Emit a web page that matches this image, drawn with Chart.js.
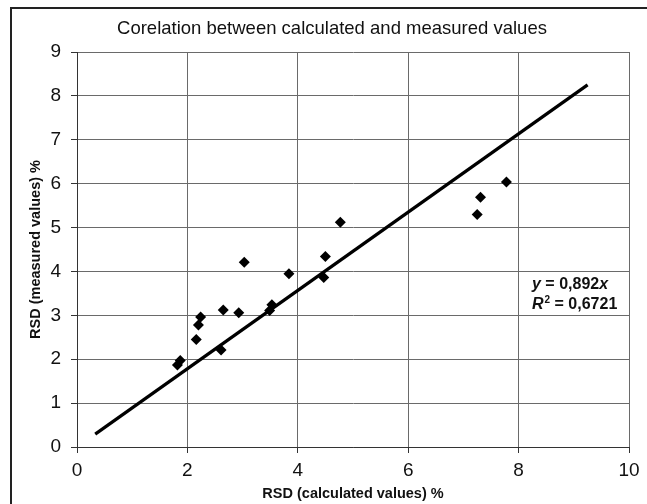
<!DOCTYPE html>
<html>
<head>
<meta charset="utf-8">
<script src="https://cdn.jsdelivr.net/npm/chart.js@4.4.1/dist/chart.umd.min.js"></script>
<style>
  html, body { margin: 0; padding: 0; background: #fff; }
  #wrap { width: 647px; height: 504px; }
</style>
</head>
<body>
<div id="wrap"><canvas id="myChart" width="647" height="504"></canvas></div>
<script>
// RSD values
const calcX = [1.82, 1.87, 2.16, 2.2, 2.24, 2.61, 2.65, 2.93, 3.03, 3.49, 3.53, 3.84, 4.47, 4.5, 4.77, 7.25, 7.31, 7.78];
const measY = [1.87, 1.97, 2.45, 2.78, 2.96, 2.21, 3.12, 3.06, 4.21, 3.11, 3.24, 3.95, 3.86, 4.34, 5.12, 5.3, 5.69, 6.04];

// trend line y = 0,892x
const slope = 0.892;
const trendX = [0.33, 9.25];
const rSquared = '0,6721';

const titleText = 'Corelation between calculated and measured values';
const xTitle = 'RSD (calculated values) %';
const yTitle = 'RSD (measured values) %';

const points = calcX.map((x, i) => ({ x: x, y: measY[i] }));
const trend = trendX.map(x => ({ x: x, y: slope * x }));

const font = 'Liberation Sans, Arial, sans-serif';
const gridColor = '#6a6a6a';

// frame, title and equation label
const extras = {
    id: 'extras',
    afterDraw(chart) {
        const c = chart.ctx;
        const a = chart.chartArea;
        c.save();
        c.strokeStyle = '#222';
        c.lineWidth = 2;
        c.beginPath();
        c.moveTo(11, 504);
        c.lineTo(11, 8);
        c.lineTo(647, 8);
        c.stroke();

        c.fillStyle = '#111';
        c.font = '18.5px ' + font;
        c.textAlign = 'center';
        c.textBaseline = 'middle';
        c.fillText(titleText, 332, 29);

        c.textAlign = 'left';
        let x = a.right - 97;
        let y = 285;
        c.font = 'italic bold 16px ' + font;
        c.fillText('y', x, y);
        let w = c.measureText('y').width;
        c.font = 'bold 16px ' + font;
        const eq = ' = ' + String(slope).replace('.', ',');
        c.fillText(eq, x + w, y);
        w += c.measureText(eq).width;
        c.font = 'italic bold 16px ' + font;
        c.fillText('x', x + w, y);

        y = 305;
        c.font = 'italic bold 16px ' + font;
        c.fillText('R', x, y);
        w = c.measureText('R').width;
        c.font = 'bold 10px ' + font;
        c.fillText('2', x + w + 1, y - 5);
        w += c.measureText('2').width + 1;
        c.font = 'bold 16px ' + font;
        c.fillText(' = ' + rSquared, x + w, y);
        c.restore();
    }
};

new Chart(document.getElementById('myChart'), {
    type: 'scatter',
    data: {
        datasets: [{
            label: 'RSD',
            data: points,
            pointStyle: 'rectRot',
            pointRadius: 5.5,
            backgroundColor: '#000',
            borderColor: '#000',
            borderWidth: 0,
            order: 2
        }, {
            type: 'line',
            label: 'trend',
            data: trend,
            borderColor: '#000',
            borderWidth: 3.2,
            pointRadius: 0,
            fill: false,
            order: 1
        }]
    },
    options: {
        responsive: false,
        animation: false,
        events: [],
        layout: {
            padding: { left: 0, right: 18, top: 52, bottom: 0 }
        },
        plugins: {
            legend: { display: false },
            title: { display: false },
            tooltip: { enabled: false }
        },
        scales: {
            x: {
                type: 'linear',
                min: 0,
                max: 10,
                ticks: {
                    stepSize: 2,
                    color: '#111',
                    font: { family: font, size: 19 },
                    padding: 6
                },
                grid: { color: gridColor, tickLength: 6, tickColor: '#333' },
                border: { color: '#333', width: 1 },
                title: {
                    display: true,
                    text: xTitle,
                    color: '#111',
                    font: { family: font, size: 14.5, weight: 'bold' },
                    padding: { top: 0, bottom: 1 }
                },
                afterFit(scale) { scale.height = 57; }
            },
            y: {
                type: 'linear',
                min: 0,
                max: 9,
                ticks: {
                    stepSize: 1,
                    color: '#111',
                    font: { family: font, size: 19 },
                    padding: 10
                },
                grid: { color: gridColor, tickLength: 6, tickColor: '#333' },
                border: { color: '#333', width: 1 },
                title: {
                    display: true,
                    text: yTitle,
                    color: '#111',
                    font: { family: font, size: 14.5, weight: 'bold' },
                    padding: { top: 27, bottom: 0 }
                },
                afterFit(scale) { scale.width = 77; }
            }
        }
    },
    plugins: [extras]
});
</script>
</body>
</html>
